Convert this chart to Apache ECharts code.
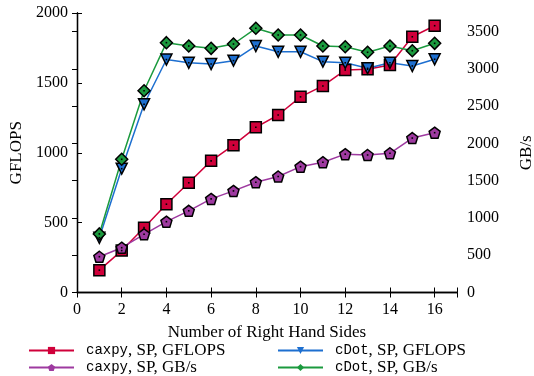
<!DOCTYPE html>
<html><head><meta charset="utf-8">
<script src="https://cdn.jsdelivr.net/npm/echarts@6/dist/echarts.min.js"></script>
<style>html,body{margin:0;padding:0;background:#fff}#c{width:534px;height:376px}</style>
</head><body><div id="c"></div>
<script>
const rhs = [1,2,3,4,5,6,7,8,9,10,11,12,13,14,15,16];
const caxpyGflops = [160,300,464,632,785,942,1054,1182,1270,1400,1478,1592,1597,1628,1830,1909];
const caxpyGbs    = [480,601,781,950,1096,1256,1363,1480,1556,1688,1748,1856,1845,1868,2072,2144];
const cdotGflops  = [392,886,1347,1667,1644,1635,1659,1764,1723,1723,1652,1644,1604,1644,1621,1669];
const cdotGbs     = [786,1787,2707,3352,3307,3276,3334,3545,3455,3455,3307,3298,3223,3307,3244,3343];
const xTicks = [0,2,4,6,8,10,12,14,16];
const yLeftTicks = [0,500,1000,1500,2000];
const yRightTicks = [0,500,1000,1500,2000,2500,3000,3500];
const seriesNames = ['caxpy, SP, GFLOPS','caxpy, SP, GB/s','cDot, SP, GFLOPS','cDot, SP, GB/s'];

const serif = '"Liberation Serif", serif';
const mono = '"Liberation Mono", monospace';
const pent = 'path://M0,-1 L0.951,-0.309 L0.588,0.809 L-0.588,0.809 L-0.951,-0.309 Z';
const tri = 'path://M-1,-0.85 L1,-0.85 L0,0.95 Z';
const pairs = a => rhs.map((x,i)=>[x,a[i]]);

function mk(name, data, yIdx, color, symbol, size){
  return {
    name, type:'line', yAxisIndex:yIdx, data:pairs(data), symbol, symbolSize:size,
    lineStyle:{color, width:1.5}, itemStyle:{color, borderColor:'#000', borderWidth:1.5},
    emphasis:{disabled:true}, z:2
  };
}
function dots(data, yIdx){
  return {type:'line', yAxisIndex:yIdx, data:pairs(data), symbol:'rect', symbolSize:1.6,
    lineStyle:{width:0, opacity:0}, itemStyle:{color:'#000'}, emphasis:{disabled:true}, z:3, silent:true};
}
const axisLine = {show:true, lineStyle:{color:'#000', width:1.3}};
const tickIn = {show:true, inside:true, length:5, lineStyle:{color:'#000', width:1}};
const lblStyle = {fontFamily:serif, fontSize:16, color:'#000'};
const legendFmt = n => { const k=n.indexOf(','); return '{m|'+n.slice(0,k)+'}{s|'+n.slice(k)+'}'; };
const legendText = {rich:{m:{fontFamily:mono, fontSize:14, color:'#000', padding:[0,0,0,7]}, s:{fontFamily:serif, fontSize:17, color:'#000'}}, lineHeight:16};

const chart = echarts.init(document.getElementById('c'));
chart.setOption({
  animation:false,
  backgroundColor:'#fff',
  grid:{left:77, right:77, top:13, bottom:83.5, containLabel:false, outerBoundsMode:'none'},
  xAxis:[
    {type:'value', min:0, max:17, interval:2, position:'bottom',
     axisLine, axisTick:tickIn, splitLine:{show:false}, minorTick:{show:false},
     axisLabel:{...lblStyle, margin:9, formatter:v => xTicks.includes(v) ? String(v) : ''},
     name:'Number of Right Hand Sides', nameLocation:'middle', nameGap:32,
     nameTextStyle:{fontFamily:serif, fontSize:17, color:'#000'}},
    {type:'value', min:0, max:17, interval:2, position:'top',
     axisLine, axisTick:tickIn, splitLine:{show:false}, minorTick:{show:false}, axisLabel:{show:false}}
  ],
  yAxis:[
    {type:'value', min:0, max:2000, interval:500, position:'left',
     axisLine, axisTick:tickIn, splitLine:{show:false}, minorTick:{show:false},
     axisLabel:{...lblStyle, margin:9, formatter:v => yLeftTicks.includes(v) ? String(v) : ''},
     name:'GFLOPS', nameLocation:'middle', nameGap:48, nameRotate:90,
     nameTextStyle:{fontFamily:serif, fontSize:17, color:'#000'}},
    {type:'value', min:0, max:3750, interval:500, position:'right',
     axisLine, axisTick:tickIn, splitLine:{show:false}, minorTick:{show:false},
     axisLabel:{...lblStyle, margin:10, formatter:v => yRightTicks.includes(v) ? String(v) : ''},
     name:'GB/s', nameLocation:'middle', nameGap:61, nameRotate:90,
     nameTextStyle:{fontFamily:serif, fontSize:17, color:'#000'}}
  ],
  legend:[
    {data:[seriesNames[0], seriesNames[1]], orient:'vertical', left:28, top:342, padding:0,
     itemWidth:45, itemHeight:9, itemGap:0, itemStyle:{borderWidth:0},
     formatter:legendFmt, textStyle:legendText},
    {data:[seriesNames[2], seriesNames[3]], orient:'vertical', left:277, top:342, padding:0,
     itemWidth:45, itemHeight:9, itemGap:0, itemStyle:{borderWidth:0},
     formatter:legendFmt, textStyle:legendText}
  ],
  series:[
    mk(seriesNames[0], caxpyGflops, 0, '#d0003a', 'rect', 11),
    mk(seriesNames[1], caxpyGbs, 1, '#9e3aa0', pent, 11),
    mk(seriesNames[2], cdotGflops, 0, '#1d6fd0', tri, 11),
    mk(seriesNames[3], cdotGbs, 1, '#1b9a3e', 'diamond', 12),
    dots(caxpyGflops,0), dots(caxpyGbs,1), dots(cdotGflops,0), dots(cdotGbs,1)
  ]
});
</script></body></html>
